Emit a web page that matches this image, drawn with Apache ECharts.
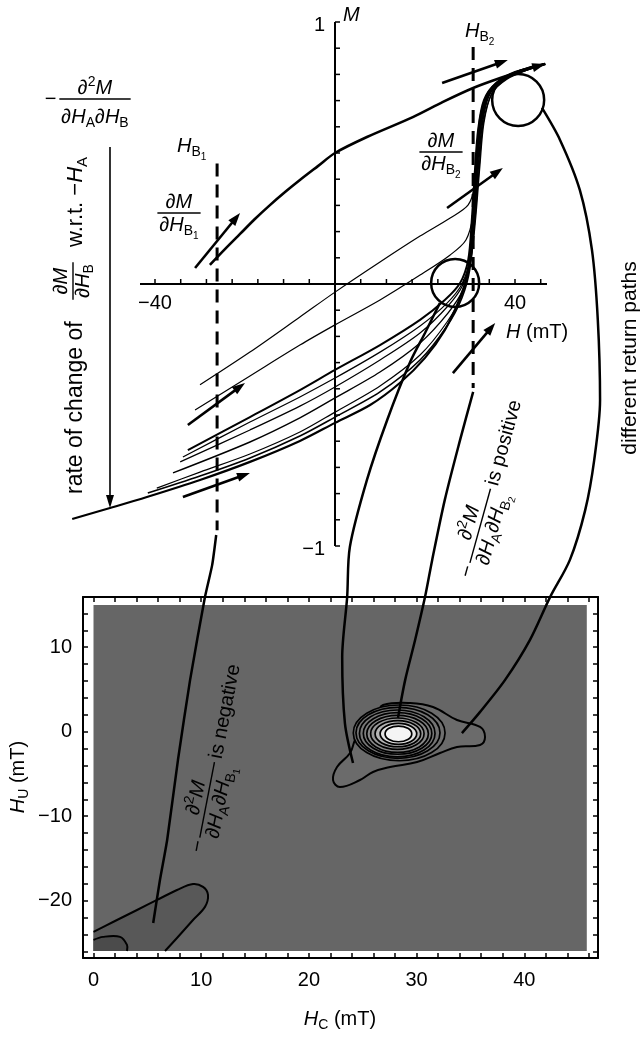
<!DOCTYPE html>
<html><head><meta charset="utf-8">
<script src="https://cdn.jsdelivr.net/npm/echarts@6/dist/echarts.min.js"></script>
<style>html,body{margin:0;padding:0;background:#fff}#c{width:643px;height:1037px}</style>
</head><body><div id="c"></div>
<script>
// ================= DATA =================
// ---- top panel: hysteresis / FORC curves, H in mT, M normalised ----
const topAxisH = [-43.333, 47.111];
const topAxisM = [-1, 1];
const topXTicks = [-40,-34.286,-28.571,-22.857,-17.143,-11.429,-5.714,0,5.714,11.429,17.143,22.857,28.571,34.286,40,45.714];
const topXLabels = [-40, 40];
const topYTicks = [-1,-0.9,-0.8,-0.7,-0.6,-0.5,-0.4,-0.3,-0.2,-0.1,0,0.1,0.2,0.3,0.4,0.5,0.6,0.7,0.8,0.9,1];
const topYLabels = [-1, 1];

const upperCurve = [[-27.8,0.073],[-24.4,0.134],[-21.1,0.191],[-17.8,0.248],[-14.4,0.302],[-11.1,0.351],[-7.8,0.397],[-3.8,0.45],[0,0.5],[7.1,0.561],[17.3,0.637],[24,0.695],[30.7,0.748],[36.7,0.786],[42.2,0.817],[46.7,0.84]];
const lowerBranch = [[-58.4,-0.897],[-50,-0.855],[-41.8,-0.813],[-30,-0.748],[-18.9,-0.679],[-7.8,-0.599],[0,-0.53],[7.8,-0.462],[14.4,-0.378],[20,-0.282],[24.4,-0.176],[27.3,-0.073],[29.1,0.015],[30.2,0.13],[30.9,0.321],[31.6,0.511],[32.4,0.645],[34.4,0.74],[38.4,0.794],[42.9,0.824],[46.7,0.84]];
const forc1 = [[-30,-0.385],[-18.9,-0.26],[-7.8,-0.126],[0,-0.031],[10,0.084],[18.9,0.183],[25.6,0.252],[29.6,0.302],[31.1,0.378],[31.8,0.511],[32.7,0.645],[34.9,0.748],[38.9,0.798],[43.3,0.824],[46.7,0.84]];
const forc2 = [[-31.1,-0.481],[-18.9,-0.351],[-7.8,-0.233],[0,-0.156],[10,-0.061],[18.9,0.034],[25.6,0.111],[29.1,0.168],[30.7,0.263],[31.3,0.397],[32,0.55],[33.3,0.683],[36,0.763],[40,0.809],[46.7,0.84]];
const forc3 = [[-32.7,-0.634],[-18.9,-0.508],[-7.8,-0.405],[0,-0.328],[10,-0.233],[18.9,-0.137],[24.4,-0.061],[27.8,0.004],[29.6,0.092],[30.4,0.244],[31.1,0.435],[31.8,0.588],[33.1,0.702],[35.8,0.767],[40,0.809],[46.7,0.84]];
const forc4 = [[-33.8,-0.66],[-18.9,-0.527],[-7.8,-0.431],[0,-0.359],[10,-0.26],[18.9,-0.16],[24.9,-0.073],[28.2,0],[30,0.099],[30.9,0.263],[31.6,0.454],[32.2,0.607],[33.8,0.714],[36.7,0.775],[41.1,0.813],[46.7,0.84]];
const forc5 = [[-34.4,-0.679],[-18.9,-0.557],[-7.8,-0.466],[0,-0.393],[10,-0.29],[18.9,-0.187],[25.1,-0.084],[28.4,-0.004],[30.2,0.111],[31.1,0.282],[31.8,0.473],[32.7,0.626],[34.4,0.729],[37.8,0.782],[42.2,0.817],[46.7,0.84]];
const forc6 = [[-36,-0.721],[-18.9,-0.603],[-7.8,-0.511],[0,-0.435],[10,-0.336],[18.9,-0.225],[25.1,-0.111],[28.4,-0.023],[30.2,0.092],[31.3,0.263],[32.2,0.454],[33.1,0.618],[34.9,0.729],[38.2,0.782],[42.7,0.817],[46.7,0.84]];
const forc7 = [[-39.6,-0.779],[-30,-0.718],[-18.9,-0.649],[-7.8,-0.565],[0,-0.489],[10,-0.389],[18.9,-0.271],[24.9,-0.145],[28.2,-0.042],[30,0.073],[31.1,0.244],[32,0.435],[32.9,0.607],[34.7,0.721],[38,0.782],[42.7,0.817],[46.7,0.84]];
const forc8 = [[-41.6,-0.798],[-30,-0.733],[-18.9,-0.664],[-7.8,-0.58],[0,-0.508],[10,-0.412],[18.9,-0.29],[24.9,-0.16],[28.2,-0.053],[30,0.061],[30.9,0.237],[31.8,0.435],[32.7,0.607],[34.2,0.718],[37.3,0.779],[42,0.817],[46.7,0.84]];

const reversalFieldB1 = [[-26.2,0.46],[-26.2,-0.94]];   // dashed H_B1
const reversalFieldB2 = [[30.7,0.905],[30.7,-0.397]];   // dashed H_B2
const highlightCircles = [[40.7,0.702],[26.7,0.004]];
const thickArrows = [[-31.1,0.061,-21.1,0.271],[-32.7,-0.538,-20,-0.378],[-33.8,-0.813,-18.9,-0.721],[24.9,0.29,37.3,0.443],[23.8,0.767,38.4,0.855],[26.2,-0.34,35.6,-0.149],[42.2,0.817,46.7,0.84]];
const thinArrows = [[-50,0.523,-50,-0.855]];

// connectors from the loop to the FORC diagram (in top-panel units)
const connectorReturn = [[46,0.672],[50,0.55],[54.4,0.359],[57.1,0.13],[58.4,-0.137],[58.9,-0.443],[57.6,-0.672],[55.6,-0.863],[52.2,-1.053],[47.8,-1.195],[43.3,-1.359],[37.8,-1.511],[32.2,-1.634],[28.2,-1.714]];
const connectorLowCircle = [[23.3,-0.073],[20,-0.187],[16.7,-0.298],[11.6,-0.519],[7.1,-0.748],[3.3,-1.004],[2.7,-1.195],[1.6,-1.424],[2.2,-1.676],[4,-1.828]];
const connectorB2 = [[30.7,-0.412],[27.8,-0.595],[24.4,-0.824],[21.6,-1.053],[20,-1.195],[17.8,-1.359],[15.6,-1.511],[14,-1.656]];
const connectorB1 = [[-26.4,-0.958],[-27.3,-1.073],[-28.9,-1.195],[-32.2,-1.511],[-34.9,-1.817],[-37.3,-2.122],[-38.9,-2.275],[-40.4,-2.439]];

// ---- bottom panel: FORC diagram, Hc / Hu in mT ----
const forcXTicks = [0,2,4,6,8,10,12,14,16,18,20,22,24,26,28,30,32,34,36,38,40,42,44,46];
const forcXLabels = [0,10,20,30,40];
const forcYTicks = [-26,-24,-22,-20,-18,-16,-14,-12,-10,-8,-6,-4,-2,0,2,4,6,8,10,12,14];
const forcYLabels = [-20,-10,0,10];
const forcHcRange = [0, 45.8];
const forcHuRange = [-25.95, 15];
const negOuterContour = [[0,-23.7],[1.81,-22.52],[4.04,-21.1],[5.9,-19.91],[7.75,-18.73],[9.24,-18.02],[10.17,-18.37],[10.63,-19.31],[10.35,-20.73],[9.24,-22.28],[7.75,-24.41],[6.64,-25.95]];
const negInnerContour = [[0,-24.64],[0.88,-24.28],[2.46,-24.28],[3.11,-25.23],[3.11,-25.95]];
const posOuterContour = [[26.88,3.16],[29.39,3.4],[31.52,2.92],[33.75,1.38],[35.89,0.56],[36.35,-0.63],[35.89,-1.57],[33.75,-1.81],[32.17,-2.52],[30.04,-3.59],[27.53,-4.18],[25.95,-4.77],[24.74,-5.72],[22.88,-6.54],[22.24,-5.72],[22.61,-4.18],[23.82,-2.52],[24.28,-0.98],[25.02,0.56],[26.32,2.21]];
// [centre Hc, centre Hu, half-width Hc, half-height Hu]
const posRings = [[28.38,-0.14,4.26,3.30],[28.27,-0.13,3.9,3.02],[28.2,-0.2,3.51,2.77],[28.23,-0.21,3.18,2.46],[28.23,-0.25,2.86,2.19],[28.21,-0.23,2.48,1.85],[28.26,-0.24,2.12,1.54],[28.31,-0.25,1.7,1.24],[28.31,-0.26,1.24,0.93]];

// ================= STYLE / RENDER =================
const FONT = '"Liberation Sans", Arial, Helvetica, sans-serif';
const BLACK = '#000';
const ringFills = ['#6f6f6f','#737373','#787878','#7e7e7e','#888888','#979797','#b4b4b4','#e2e2e2','#f4f4f4'];
const circleRadiusPx = [26, 24];
const minusFmt = v => (v < 0 ? '\u2212' + Math.abs(v) : String(v));

const chart = echarts.init(document.getElementById('c'), null, {renderer: 'canvas'});

function lineSeries(data, width, extra) {
  return Object.assign({
    type: 'line', xAxisIndex: 0, yAxisIndex: 0, data: data, symbol: 'none', showSymbol: false,
    smooth: 0.3, clip: false, silent: true, animation: false, z: 5,
    lineStyle: {color: BLACK, width: width}
  }, extra || {});
}

function arrowSeries(data, width, head) {
  return {
    type: 'custom', xAxisIndex: 0, yAxisIndex: 0, data: data, clip: false, silent: true, animation: false, z: 6,
    renderItem: function (params, api) {
      const p1 = api.coord([api.value(0), api.value(1)]);
      const p2 = api.coord([api.value(2), api.value(3)]);
      const dx = p2[0] - p1[0], dy = p2[1] - p1[1];
      const L = Math.sqrt(dx * dx + dy * dy) || 1;
      const ux = dx / L, uy = dy / L, nx = -uy, ny = ux;
      const bx = p2[0] - ux * head[0], by = p2[1] - uy * head[0];
      return {type: 'group', children: [
        {type: 'line', shape: {x1: p1[0], y1: p1[1], x2: bx + ux, y2: by + uy}, style: {stroke: BLACK, lineWidth: width}},
        {type: 'polygon', shape: {points: [[p2[0], p2[1]], [bx + nx * head[1], by + ny * head[1]], [bx - nx * head[1], by - ny * head[1]]]}, style: {fill: BLACK}}
      ]};
    }
  };
}

function txt(t, x, y, size, align, valign) {
  return {type: 'text', x: x, y: y, z2: 5, style: {text: t, font: size + 'px ' + FONT, fill: BLACK,
    align: align, verticalAlign: valign, textAlign: align, textVerticalAlign: valign}};
}

const series = [];
// --- top panel axes (crossing at the origin) ---
series.push({
  type: 'custom', xAxisIndex: 0, yAxisIndex: 0, data: [[0]], clip: false, silent: true, animation: false, z: 4,
  renderItem: function (params, api) {
    const ch = [];
    const xa = api.coord([topAxisH[0], 0]), xb = api.coord([topAxisH[1], 0]);
    const ya = api.coord([0, topAxisM[0]]), yb = api.coord([0, topAxisM[1]]);
    ch.push({type: 'line', shape: {x1: xa[0], y1: xa[1], x2: xb[0], y2: xb[1]}, style: {stroke: BLACK, lineWidth: 2}});
    ch.push({type: 'line', shape: {x1: ya[0], y1: ya[1], x2: yb[0], y2: yb[1]}, style: {stroke: BLACK, lineWidth: 2}});
    topXTicks.forEach(function (v) {
      const p = api.coord([v, 0]);
      ch.push({type: 'line', shape: {x1: p[0], y1: p[1], x2: p[0], y2: p[1] - 5}, style: {stroke: BLACK, lineWidth: 1.5}});
    });
    topYTicks.forEach(function (v) {
      const p = api.coord([0, v]);
      ch.push({type: 'line', shape: {x1: p[0], y1: p[1], x2: p[0] + 5, y2: p[1]}, style: {stroke: BLACK, lineWidth: 1.5}});
    });
    topXLabels.forEach(function (v) {
      const p = api.coord([v, 0]);
      ch.push(txt(minusFmt(v), p[0], p[1] + 9, 20, 'center', 'top'));
    });
    topYLabels.forEach(function (v) {
      const p = api.coord([0, v]);
      ch.push(txt(minusFmt(v), p[0] - 10, p[1] + 3, 20, 'right', 'middle'));
    });
    return {type: 'group', children: ch};
  }
});
// --- bottom panel background & contours ---
series.push({
  type: 'custom', xAxisIndex: 1, yAxisIndex: 1, data: [[0]], silent: true, animation: false, z: 1,
  renderItem: function (params, api) {
    const a = api.coord([forcHcRange[0], forcHuRange[1]]);
    const b = api.coord([forcHcRange[1], forcHuRange[0]]);
    return {type: 'rect', shape: {x: a[0], y: a[1], width: b[0] - a[0], height: b[1] - a[1]}, style: {fill: '#666666'}};
  }
});
[[negOuterContour, '#585858'], [negInnerContour, '#4b4b4b']].forEach(function (c) {
  series.push({
    type: 'custom', xAxisIndex: 1, yAxisIndex: 1, data: [[0]], silent: true, animation: false, z: 2,
    renderItem: function (params, api) {
      const pts = c[0].map(p => api.coord(p));
      const fillPts = pts.concat([api.coord([forcHcRange[0], forcHuRange[0]])]);
      return {type: 'group', children: [
        {type: 'polygon', shape: {points: fillPts}, style: {fill: c[1]}},
        {type: 'polyline', shape: {points: pts, smooth: 0.35}, style: {stroke: BLACK, lineWidth: 2, fill: null}}
      ]};
    }
  });
});
series.push({
  type: 'custom', xAxisIndex: 1, yAxisIndex: 1, data: [[0]], silent: true, animation: false, z: 2,
  renderItem: function (params, api) {
    const pts = posOuterContour.map(p => api.coord(p));
    return {type: 'polygon', shape: {points: pts, smooth: 0.4}, style: {fill: '#6b6b6b', stroke: BLACK, lineWidth: 2}};
  }
});
series.push({
  type: 'custom', xAxisIndex: 1, yAxisIndex: 1, data: posRings, silent: true, animation: false, z: 3,
  renderItem: function (params, api) {
    const c = api.coord([api.value(0), api.value(1)]);
    const s = api.size([api.value(2), api.value(3)]);
    return {type: 'ellipse', shape: {cx: c[0], cy: c[1], rx: s[0], ry: s[1]},
      style: {fill: ringFills[params.dataIndex], stroke: BLACK, lineWidth: 1.7}};
  }
});

// --- top panel curves ---
series.push(lineSeries(upperCurve, 2.6));
series.push(lineSeries(lowerBranch, 2.2));
series.push(lineSeries(forc1, 1.2));
series.push(lineSeries(forc2, 1.2));
series.push(lineSeries(forc3, 2.0));
series.push(lineSeries(forc4, 1.2));
series.push(lineSeries(forc5, 1.2));
series.push(lineSeries(forc6, 1.4));
series.push(lineSeries(forc7, 1.2));
series.push(lineSeries(forc8, 1.6));
series.push(lineSeries(reversalFieldB1, 3, {smooth: false, lineStyle: {color: BLACK, width: 3, type: [13, 8]}}));
series.push(lineSeries(reversalFieldB2, 3, {smooth: false, lineStyle: {color: BLACK, width: 3, type: [13, 8]}}));
series.push(lineSeries(connectorReturn, 2.5, {z: 10}));
series.push(lineSeries(connectorLowCircle, 2.5, {z: 10}));
series.push(lineSeries(connectorB2, 2.5, {z: 10}));
series.push(lineSeries(connectorB1, 2.5, {z: 10, smooth: 0.2}));
series.push({
  type: 'custom', xAxisIndex: 0, yAxisIndex: 0, data: highlightCircles, clip: false, silent: true, animation: false, z: 6,
  renderItem: function (params, api) {
    const p = api.coord([api.value(0), api.value(1)]);
    return {type: 'circle', shape: {cx: p[0], cy: p[1], r: circleRadiusPx[params.dataIndex]}, style: {fill: null, stroke: BLACK, lineWidth: 2.5}};
  }
});
series.push(arrowSeries(thickArrows, 2.6, [13, 4.5]));
series.push(arrowSeries(thinArrows, 1.6, [13, 4]));

// --- text helpers ---
const mctx = document.createElement('canvas').getContext('2d');
function fontOf(size, it) { return (it ? 'italic ' : '') + size + 'px ' + FONT; }
function tw(t, f) { mctx.font = f; return mctx.measureText(t).width; }
function row(segs, base) {
  let x = 0; const els = [];
  segs.forEach(function (s) {
    if (typeof s === 'string') s = {t: s};
    let size = base, dy = 0;
    if (s.k === 'sub') { size = Math.round(base * 0.68); dy = base * 0.32; }
    else if (s.k === 'subsub') { size = Math.round(base * 0.5); dy = base * 0.55; }
    else if (s.k === 'sup') { size = Math.round(base * 0.68); dy = -base * 0.3; }
    const f = fontOf(size, s.it);
    els.push({type: 'text', x: x, y: dy, z: 100, style: {text: s.t, font: f, fill: BLACK, align: 'left', verticalAlign: 'middle', textAlign: 'left', textVerticalAlign: 'middle'}});
    x += tw(s.t, f);
  });
  return {els: els, w: x};
}
function place(r, x0, y0) { r.els.forEach(function (e) { e.x += x0; e.y += y0; }); return r.els; }
function fraction(num, den, numDy, denDy, base, cx, cy) {
  const n = row(num, base), d = row(den, base);
  const w = Math.max(n.w, d.w) + 4;
  const els = place(n, cx - n.w / 2, cy + numDy).concat(place(d, cx - d.w / 2, cy + denDy));
  els.push({type: 'line', z: 100, shape: {x1: cx - w / 2, y1: cy, x2: cx + w / 2, y2: cy}, style: {stroke: BLACK, lineWidth: 1.4}});
  return {els: els, w: w};
}
const D = '\u2202', MINUS = '\u2212';
const numD2M = [D, {t: '2', k: 'sup'}, {t: 'M', it: 1}];
const numDM = [D, {t: 'M', it: 1}];
const denAB = [D, {t: 'H', it: 1}, {t: 'A', k: 'sub'}, D, {t: 'H', it: 1}, {t: 'B', k: 'sub'}];
function denABn(n) { return [D, {t: 'H', it: 1}, {t: 'A', k: 'sub'}, D, {t: 'H', it: 1}, {t: 'B', k: 'sub'}, {t: n, k: 'subsub'}]; }
function denBn(n) { return [D, {t: 'H', it: 1}, {t: 'B', k: 'sub'}, {t: n, k: 'subsub'}]; }

const graphics = [];
const B = 20;
(function () {
  const fr = fraction(numD2M, denAB, -11, 18, B, 0, 0);
  const m = row([MINUS], B);
  const els = fr.els.concat(place(m, -fr.w / 2 - m.w - 3, 0));
  graphics.push({type: 'group', x: 95, y: 99, children: els});
})();
(function () {
  const r1 = row(['rate of change of'], 23);
  const fr = fraction(numDM, [D, {t: 'H', it: 1}, {t: 'B', k: 'sub'}], -12, 10, B, 213, -3);
  const r2 = row(['w.r.t. ', MINUS, {t: 'H', it: 1}, {t: 'A', k: 'sub'}], 22);
  const els = place(r1, 0, 0).concat(fr.els, place(r2, 247, 0));
  graphics.push({type: 'group', x: 76, y: 494, rotation: Math.PI / 2, children: els});
})();
graphics.push({type: 'group', x: 177, y: 146, children: row([{t: 'H', it: 1}, {t: 'B', k: 'sub'}, {t: '1', k: 'subsub'}], B).els});
graphics.push({type: 'group', x: 179, y: 213, children: fraction(numDM, denBn('1'), -11, 12, B, 0, 0).els});
graphics.push({type: 'group', x: 343, y: 15, children: row([{t: 'M', it: 1}], B).els});
graphics.push({type: 'group', x: 465, y: 31, children: row([{t: 'H', it: 1}, {t: 'B', k: 'sub'}, {t: '2', k: 'subsub'}], B).els});
graphics.push({type: 'group', x: 441, y: 152, children: fraction(numDM, denBn('2'), -11, 12, B, 0, 0).els});
graphics.push({type: 'group', x: 506, y: 332, children: row([{t: 'H', it: 1}, ' (mT)'], B).els});
function rotatedStatement(n, word, x, y, rot) {
  const m = row([MINUS], B);
  const fr0 = fraction(numD2M, denABn(n), -11, 13, B, 0, 0);
  const cx = m.w + 3 + fr0.w / 2;
  const fr = fraction(numD2M, denABn(n), -11, 13, B, cx, 0);
  const r = row([word], B);
  const els = place(m, 0, 0).concat(fr.els, place(r, cx + fr.w / 2 + 4, 1));
  graphics.push({type: 'group', x: x, y: y, rotation: rot, children: els});
}
rotatedStatement('2', 'is positive', 466, 577, 1.30);
rotatedStatement('1', 'is negative', 197, 852, 1.379);
(function () {
  const r = row(['different return paths'], 21);
  graphics.push({type: 'group', x: 630, y: 358, rotation: Math.PI / 2, children: place(r, -r.w / 2, 0)});
})();
(function () {
  const r = row([{t: 'H', it: 1}, {t: 'U', k: 'sub'}, ' (mT)'], B);
  graphics.push({type: 'group', x: 18, y: 777, rotation: Math.PI / 2, children: place(r, -r.w / 2, 0)});
})();
(function () {
  const r = row([{t: 'H', it: 1}, {t: 'C', k: 'sub'}, ' (mT)'], B);
  graphics.push({type: 'group', x: 340, y: 1019, children: place(r, -r.w / 2, 0)});
})();

const axisBlack = {color: BLACK, width: 2};
const tickStyle = {color: BLACK, width: 1.5};
const labelStyle = {color: BLACK, fontSize: 20, fontFamily: FONT, formatter: minusFmt};
const hidden = {show: false};

chart.setOption({
  animation: false,
  backgroundColor: '#fff',
  grid: [
    {left: 0, top: 0, width: 643, height: 1037},
    {left: 83, top: 597, width: 515, height: 361}
  ],
  xAxis: [
    {gridIndex: 0, type: 'value', min: -74.444, max: 68.444, show: false, splitLine: hidden},
    {gridIndex: 1, type: 'value', min: -0.975, max: 46.84, position: 'bottom', splitLine: hidden,
      axisLine: {onZero: false, lineStyle: axisBlack},
      axisTick: {inside: true, length: 5, customValues: forcXTicks, lineStyle: tickStyle},
      axisLabel: Object.assign({customValues: forcXLabels, margin: 12}, labelStyle)},
    {gridIndex: 1, type: 'value', min: -0.975, max: 46.84, position: 'top', splitLine: hidden,
      axisLine: {onZero: false, lineStyle: axisBlack},
      axisTick: {inside: true, length: 5, customValues: forcXTicks, lineStyle: tickStyle},
      axisLabel: hidden}
  ],
  yAxis: [
    {gridIndex: 0, type: 'value', min: -2.87405, max: 1.08397, show: false, splitLine: hidden},
    {gridIndex: 1, type: 'value', min: -26.78, max: 15.94, position: 'left', splitLine: hidden,
      axisLine: {onZero: false, lineStyle: axisBlack},
      axisTick: {inside: true, length: 5, customValues: forcYTicks, lineStyle: tickStyle},
      axisLabel: Object.assign({customValues: forcYLabels, margin: 11}, labelStyle)},
    {gridIndex: 1, type: 'value', min: -26.78, max: 15.94, position: 'right', splitLine: hidden,
      axisLine: {onZero: false, lineStyle: axisBlack},
      axisTick: {inside: true, length: 5, customValues: forcYTicks, lineStyle: tickStyle},
      axisLabel: hidden}
  ],
  series: series,
  graphic: {elements: graphics.map(function (g) { g.z = 100; return g; })}
});
</script>
</body></html>
